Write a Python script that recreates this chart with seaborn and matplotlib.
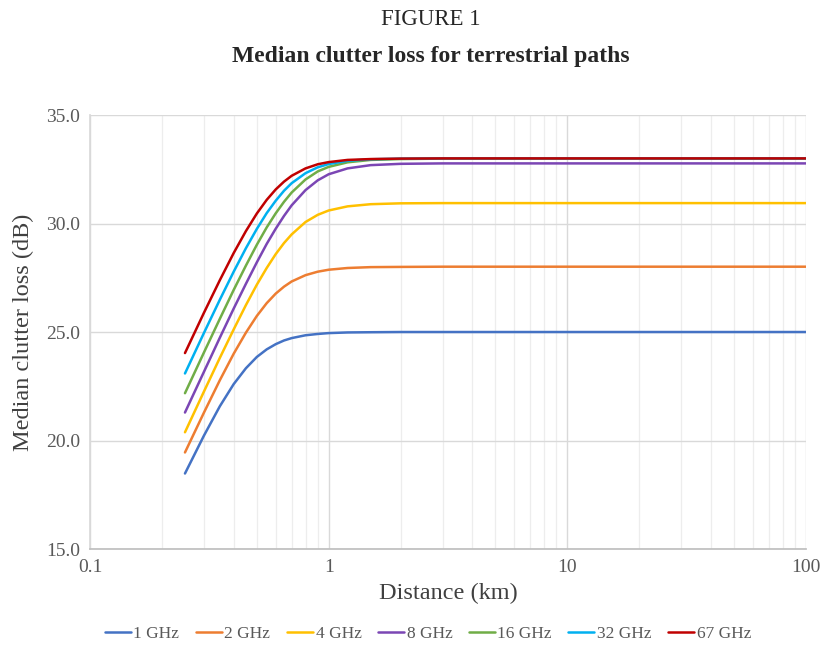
import numpy as np
import pandas as pd
import matplotlib
matplotlib.use("Agg")
import matplotlib.pyplot as plt
import matplotlib.ticker as mtick
import seaborn as sns

distance = [0.25, 0.3, 0.35, 0.4, 0.45, 0.5, 0.55, 0.6, 0.65, 0.7, 0.8, 0.9,
            1.0, 1.2, 1.5, 2, 3, 5, 10, 100]

loss_1 = [18.48, 20.22, 21.58, 22.60, 23.33, 23.85, 24.20, 24.44, 24.61, 24.72, 24.85, 24.91,
          24.95, 24.98, 24.99, 25.0, 25.0, 25.0, 25.0, 25.0]
loss_2 = [19.45, 21.28, 22.78, 24.00, 24.97, 25.74, 26.33, 26.77, 27.09, 27.33, 27.62, 27.78,
          27.87, 27.95, 27.99, 28.0, 28.01, 28.01, 28.01, 28.01]
loss_4 = [20.38, 22.25, 23.81, 25.12, 26.24, 27.18, 27.95, 28.59, 29.10, 29.50, 30.07, 30.40,
          30.60, 30.79, 30.89, 30.93, 30.94, 30.94, 30.94, 30.94]
loss_8 = [21.29, 23.16, 24.74, 26.08, 27.22, 28.21, 29.06, 29.76, 30.35, 30.84, 31.54, 31.99,
          32.27, 32.54, 32.69, 32.75, 32.77, 32.77, 32.77, 32.77]
loss_16 = [22.18, 24.05, 25.61, 26.94, 28.06, 29.02, 29.82, 30.47, 31.00, 31.43, 32.03, 32.40,
           32.61, 32.82, 32.93, 32.97, 32.99, 32.99, 32.99, 32.99]
loss_32 = [23.09, 24.95, 26.49, 27.78, 28.86, 29.75, 30.48, 31.05, 31.51, 31.86, 32.32, 32.59,
           32.74, 32.89, 32.96, 32.99, 33.0, 33.0, 33.0, 33.0]
loss_67 = [24.03, 25.88, 27.39, 28.64, 29.65, 30.46, 31.09, 31.57, 31.93, 32.20, 32.54, 32.73,
           32.83, 32.93, 32.97, 32.99, 33.0, 33.0, 33.0, 33.0]

series = ["1 GHz", "2 GHz", "4 GHz", "8 GHz", "16 GHz", "32 GHz", "67 GHz"]
colors = ["#4472C4", "#ED7D31", "#FFC000", "#7B46B4", "#70AD47", "#00B0F0", "#C00000"]

frames = []
for name, vals in zip(series, [loss_1, loss_2, loss_4, loss_8, loss_16, loss_32, loss_67]):
    frames.append(pd.DataFrame({"distance": distance, "loss": vals, "freq": name}))
df = pd.concat(frames, ignore_index=True)

sns.set_theme(style="white")
plt.rcParams["font.family"] = ["Liberation Serif", "DejaVu Serif"]

fig = plt.figure(figsize=(8.22, 6.45), dpi=100)
ax = fig.add_axes([0.1095, 0.1488, 0.871, 0.6729])

sns.lineplot(data=df, x="distance", y="loss", hue="freq", hue_order=series,
             palette=colors, linewidth=1.8, ax=ax, legend=True)

ax.set_xscale("log")
ax.set_xlim(0.1, 100)
ax.set_ylim(15, 35)
ax.set_yticks([15, 20, 25, 30, 35])
ax.yaxis.set_major_formatter(mtick.FormatStrFormatter("%.1f"))
ax.set_xticks([0.1, 1, 10, 100])
ax.set_xticklabels(["0.1", "1", "10", "100"])
ax.xaxis.set_minor_locator(mtick.LogLocator(base=10, subs=np.arange(2, 10)))
ax.xaxis.set_minor_formatter(mtick.NullFormatter())

ax.grid(True, which="major", color="#D9D9D9", linewidth=1.0)
ax.grid(True, which="minor", axis="x", color="#EDEDED", linewidth=0.9)
ax.set_axisbelow(True)
for side in ["top", "right"]:
    ax.spines[side].set_visible(False)
ax.spines["left"].set_color("#D9D9D9")
ax.spines["bottom"].set_color("#BFBFBF")
ax.tick_params(axis="both", which="both", length=0, labelsize=14, colors="#595959", pad=7)

ax.set_xlabel("Distance (km)", fontsize=17.5, color="#404040", labelpad=5)
ax.set_ylabel("Median clutter loss (dB)", fontsize=17.5, color="#404040", labelpad=9)

fig.text(0.524, 0.970, "FIGURE 1", ha="center", va="center", fontsize=16.5)
fig.text(0.524, 0.913, "Median clutter loss for terrestrial paths", ha="center",
         va="center", fontsize=17, fontweight="bold")

ax.legend(loc="center", bbox_to_anchor=(0.472, -0.195), ncol=7, frameon=False,
          fontsize=12.5, handlelength=1.5, handletextpad=0.15, columnspacing=0.95,
          labelcolor="#595959")

fig.savefig("out.png", dpi=100)
